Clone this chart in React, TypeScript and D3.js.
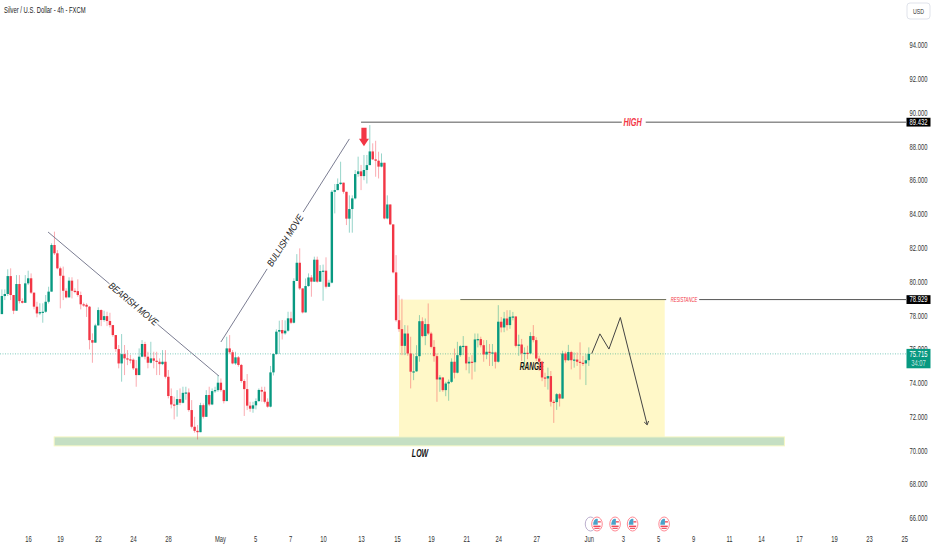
import { useEffect, useRef } from 'react';
import * as d3 from 'd3';

// values, one entry per 4h bar
const firstOpen = 78.07;
const closes = [
  79.14, 79.26, 80.32, 79.2, 78.27, 79.85, 78.84, 78.74, 79.89, 80.19, 79.34, 78.51, 78.11, 78.19, 78.21, 78.8, 79.4, 82.16, 81.67, 80.78,
  80.34, 79.45, 79.06, 80.05, 79.45, 79.43, 79.2, 78.65, 78.62, 78.51, 76.53, 76.38, 77.4, 78.31, 77.72, 77.95, 77.66, 77.42, 76.83, 76.0,
  75.15, 75.7, 75.45, 75.39, 75.37, 74.86, 74.46, 75.55, 76.3, 75.55, 75.19, 75.45, 75.31, 75.25, 75.11, 75.25, 74.36, 73.22, 72.72, 72.7,
  73.04, 72.82, 73.41, 73.43, 72.39, 71.4, 71.16, 71.08, 72.68, 71.99, 73.28, 72.72, 73.51, 73.57, 74.01, 73.57, 72.92, 76.04, 75.81, 75.15,
  75.51, 75.06, 74.11, 73.63, 72.65, 72.47, 72.67, 72.92, 73.58, 73.48, 72.88, 72.59, 74.62, 75.71, 77.03, 77.13, 76.93, 77.09, 77.82, 77.56,
  80.03, 81.11, 79.59, 78.17, 79.73, 80.24, 79.99, 81.29, 79.99, 80.62, 80.64, 79.69, 79.93, 85.31, 85.41, 85.77, 85.85, 85.31, 83.72, 84.29,
  84.92, 86.36, 86.52, 86.24, 86.6, 86.89, 87.7, 87.23, 87.15, 86.8, 87.03, 83.73, 84.56, 83.38, 80.54, 77.71, 77.18, 76.19, 76.92, 75.74,
  74.66, 74.68, 75.58, 77.65, 76.77, 77.48, 76.92, 76.13, 75.58, 74.2, 74.32, 73.57, 73.96, 74.06, 75.25, 74.6, 75.64, 76.17, 76.19, 75.15,
  75.25, 75.22, 76.57, 76.59, 76.23, 75.68, 75.84, 75.78, 75.8, 75.25, 77.62, 77.28, 77.81, 77.42, 77.91, 77.93, 76.19, 76.27, 75.74, 75.78,
  75.74, 76.77, 76.53, 75.44, 75.25, 74.32, 74.26, 74.4, 72.88, 72.86, 73.33, 73.07, 75.74, 75.34, 75.82, 75.34, 75.38, 75.25, 75.19, 75.15,
  75.34, 75.715,
];
const highs = [
  79.53, 79.53, 80.72, 80.78, 79.2, 80.38, 80.38, 79.0, 80.38, 80.64, 80.48, 79.34, 78.8, 78.71, 78.71, 79.2, 79.69, 82.26, 82.95, 81.86,
  80.88, 80.88, 79.6, 80.25, 80.25, 79.6, 80.13, 79.4, 78.75, 78.71, 78.55, 76.93, 77.5, 78.47, 78.35, 78.27, 78.21, 78.15, 77.42, 76.83,
  76.24, 76.89, 76.24, 75.94, 75.65, 75.45, 75.35, 76.04, 76.53, 76.43, 75.84, 76.43, 75.84, 75.84, 75.45, 75.94, 75.94, 74.76, 73.67, 73.18,
  73.57, 73.67, 73.77, 73.77, 73.67, 72.98, 71.99, 71.5, 72.82, 72.78, 73.57, 73.77, 73.67, 73.77, 74.46, 74.26, 73.61, 76.73, 76.83, 75.94,
  75.84, 75.59, 75.12, 74.21, 74.52, 72.88, 72.88, 73.08, 73.67, 73.77, 73.77, 73.08, 75.0, 75.75, 77.17, 77.68, 77.72, 77.7, 78.21, 78.21,
  80.19, 81.62, 81.96, 79.59, 80.18, 80.48, 80.38, 81.47, 81.47, 80.97, 81.0, 81.43, 80.1, 85.41, 85.77, 86.1, 87.09, 85.85, 85.31, 85.1,
  85.1, 86.6, 87.39, 86.9, 87.49, 87.49, 89.26, 88.18, 88.33, 87.68, 87.58, 87.03, 85.1, 84.56, 83.38, 81.56, 79.19, 78.98, 77.42, 77.4,
  76.73, 75.7, 76.23, 78.01, 77.88, 77.81, 78.7, 77.02, 76.53, 75.74, 74.46, 74.32, 74.06, 74.2, 75.45, 76.03, 76.43, 76.23, 76.77, 76.17,
  75.54, 75.64, 76.92, 76.92, 76.73, 76.53, 76.53, 76.3, 76.3, 75.85, 78.6, 77.9, 78.2, 78.3, 78.3, 78.2, 77.93, 76.85, 76.6, 76.1,
  76.2, 77.0, 77.42, 76.7, 75.6, 75.3, 74.6, 74.9, 74.7, 73.0, 73.4, 73.4, 75.9, 75.85, 76.25, 75.9, 75.8, 75.8, 76.4, 75.6,
  75.7, 76.1,
];
const lows = [
  78.07, 78.9, 79.14, 78.9, 78.07, 78.27, 78.7, 78.7, 78.74, 79.79, 79.26, 78.35, 77.88, 78.01, 77.56, 78.15, 78.7, 79.4, 81.57, 80.72,
  78.41, 78.9, 79.0, 79.06, 79.0, 79.3, 79.1, 78.35, 78.5, 77.9, 75.98, 75.19, 76.38, 77.4, 77.36, 77.62, 77.36, 77.28, 76.73, 75.84,
  74.86, 74.07, 74.46, 75.05, 75.15, 74.76, 73.77, 74.46, 75.51, 75.39, 74.86, 75.15, 74.86, 74.46, 74.46, 75.05, 74.26, 73.08, 72.49, 71.84,
  72.0, 72.68, 72.78, 73.0, 72.29, 71.3, 71.05, 70.65, 71.08, 71.89, 71.99, 72.62, 72.68, 73.41, 73.47, 73.47, 72.78, 72.92, 75.7, 75.1,
  75.06, 74.96, 74.01, 72.04, 72.39, 72.29, 72.23, 72.43, 72.88, 72.88, 72.78, 72.53, 72.55, 74.44, 75.65, 75.71, 76.57, 76.85, 77.03, 77.48,
  77.52, 80.05, 79.5, 78.11, 78.17, 79.69, 79.1, 79.99, 79.93, 79.99, 78.86, 79.59, 79.69, 79.89, 84.03, 85.41, 85.71, 85.2, 83.34, 82.89,
  82.89, 84.86, 86.2, 85.41, 86.0, 85.8, 86.89, 87.19, 86.2, 86.1, 86.76, 83.68, 83.68, 83.34, 80.48, 77.62, 77.02, 75.64, 75.64, 75.6,
  73.67, 74.16, 74.66, 75.25, 76.7, 76.23, 76.83, 76.04, 75.25, 72.88, 73.47, 73.47, 73.21, 72.94, 74.0, 74.26, 74.56, 75.54, 75.64, 74.75,
  74.56, 74.2, 74.66, 76.1, 76.1, 75.25, 75.4, 75.0, 75.0, 74.85, 75.2, 76.99, 77.0, 77.1, 77.2, 77.7, 76.1, 75.6, 75.3, 74.9,
  75.4, 75.72, 76.4, 75.3, 74.7, 74.1, 73.76, 73.6, 72.6, 71.63, 72.4, 72.6, 73.07, 75.2, 75.3, 74.8, 74.9, 75.0, 74.2, 75.0,
  73.87, 75.0,
];

const priceTicks = d3.range(66, 96, 2);
const timeLabels = ['16', '19', '22', '24', '28', 'May', '5', '7', '10', '13', '15', '19', '21', '24', '27', 'Jun', '3', '5', '9', '11', '14', '17', '19', '23', '25'];
const timeBars = [8.9, 19.9, 32.9, 44.9, 56.9, 74.7, 86.7, 98.7, 110, 123, 135.3, 147, 159, 170, 183, 201, 212.7, 224.7, 236.7, 249, 260, 273, 285, 297, 309];

const highPrice = 89.432;
const resistancePrice = 78.929;
const lastPrice = 75.715;
const countdown = '34:07';
// projected path, [bar, price]
const projection: [number, number][] = [[202, 75.73], [204.8, 76.9], [207.9, 76.0], [211.8, 77.87], [221, 71.52]];
const speechBar = 201.6;
const eventBars = [203.8, 210, 216, 226.8];

const WIDTH = 932;
const HEIGHT = 550;
const UP = '#089981';
const DOWN = '#f23645';
const FONT = '"Liberation Sans", sans-serif';

export default function App() {
  const svgRef = useRef<SVGSVGElement>(null);

  useEffect(() => {
    if (!svgRef.current) return;
    const svg = d3.select(svgRef.current);
    svg.selectAll('*').remove();

    const x = d3.scaleLinear().domain([0, closes.length - 1]).range([1.9, 588.8]);
    const y = d3.scaleLinear().domain([66, 94]).range([518, 45]);
    const opens = closes.map((_, i) => (i === 0 ? firstOpen : closes[i - 1]));
    const seg = (g: any, x1: number, y1: number, x2: number, y2: number, stroke: string, w = 1) =>
      g.append('line').attr('x1', x1).attr('y1', y1).attr('x2', x2).attr('y2', y2).attr('stroke', stroke).attr('stroke-width', w);

    // zones under the candles
    const zones = svg.append('g');
    zones.append('rect')
      .attr('x', x(136)).attr('y', y(resistancePrice))
      .attr('width', x(227) - x(136)).attr('height', y(70.8) - y(resistancePrice))
      .attr('fill', '#fff8c8');
    zones.append('rect')
      .attr('x', x(17.9)).attr('y', y(70.8))
      .attr('width', x(268) - x(17.9)).attr('height', y(70.27) - y(70.8))
      .attr('fill', '#c5dfc3').attr('stroke', '#f6f7c4').attr('stroke-width', 1);

    // last price line
    seg(svg.append('g'), 0, y(lastPrice), 906, y(lastPrice), UP)
      .attr('stroke-dasharray', '1 1.5').attr('stroke-opacity', 0.5);

    const label = (t: string, px: number, py: number, size: number, fill: string, rotate = 0, weight: any = 700, squeeze = 0.65) =>
      svg.append('text')
        .attr('transform', `translate(${px},${py}) rotate(${rotate})`)
        .attr('text-anchor', 'middle').attr('dominant-baseline', 'central')
        .attr('font-family', FONT).attr('font-size', size)
        .attr('font-style', 'italic').attr('font-weight', weight)
        .attr('data-squeeze', squeeze)
        .attr('fill', fill).text(t);

    label('RANGE', x(181.4), y(74.95), 10, '#111');

    // candles
    const candles = svg.append('g');
    candles.selectAll('line')
      .data(closes)
      .enter()
      .append('line')
      .attr('x1', (_, i) => x(i)).attr('x2', (_, i) => x(i))
      .attr('y1', (_, i) => y(highs[i])).attr('y2', (_, i) => y(lows[i]))
      .attr('stroke', (d, i) => (d >= opens[i] ? UP : DOWN))
      .attr('stroke-opacity', 0.42);
    candles.selectAll('rect')
      .data(closes)
      .enter()
      .append('rect')
      .attr('x', (_, i) => x(i) - 1.2)
      .attr('width', 2.4)
      .attr('y', (d, i) => y(Math.max(d, opens[i])))
      .attr('height', (d, i) => Math.max(1.2, Math.abs(y(d) - y(opens[i]))))
      .attr('fill', (d, i) => (d >= opens[i] ? UP : DOWN));

    // trend annotations with a gap for the text
    const annotate = (a: [number, number], b: [number, number], text: string) => {
      const [x1, y1, x2, y2] = [x(a[0]), y(a[1]), x(b[0]), y(b[1])];
      const angle = (Math.atan2(y2 - y1, x2 - x1) * 180) / Math.PI;
      const g = svg.append('g');
      seg(g, x1, y1, x1 + (x2 - x1) * 0.36, y1 + (y2 - y1) * 0.36, '#7b7d92');
      seg(g, x1 + (x2 - x1) * 0.64, y1 + (y2 - y1) * 0.64, x2, y2, '#7b7d92');
      label(text, (x1 + x2) / 2, (y1 + y2) / 2, 9.5, '#222', angle, 400, 0.85);
    };
    annotate([15.8, 82.93], [74.35, 74.4], 'BEARISH MOVE');
    annotate([75, 76.42], [119, 88.44], 'BULLISH MOVE');

    // high / resistance levels
    const levels = svg.append('g');
    seg(levels, x(123), y(highPrice), x(212.3), y(highPrice), '#555');
    seg(levels, x(220.5), y(highPrice), 906, y(highPrice), '#555');
    seg(levels, x(157), y(resistancePrice), x(227.5), y(resistancePrice), '#6b6b55');
    seg(levels, x(238.8), y(resistancePrice), 906, y(resistancePrice), '#555');
    label('HIGH', x(216), y(highPrice), 10, DOWN, 0, 700, 0.73);
    label('RESISTANCE', x(233.6), y(resistancePrice), 6.5, DOWN, 0, 400);
    label('LOW', x(143.2), y(69.8), 10, '#111', 0, 700, 0.7);

    // red arrow above the top
    const ax = x(124);
    svg.append('path')
      .attr('d', d3.line()([
        [ax - 2.6, y(89.1)], [ax + 2.6, y(89.1)], [ax + 2.6, y(88.45)], [ax + 5, y(88.45)], [ax, y(88.3) + 5],
        [ax - 5, y(88.45)], [ax - 2.6, y(88.45)],
      ] as [number, number][]) + 'Z')
      .attr('fill', DOWN);

    // projected path
    const pts = projection.map(([b, p]) => [x(b), y(p)] as [number, number]);
    svg.append('path')
      .attr('d', d3.line()(pts))
      .attr('fill', 'none').attr('stroke', '#444').attr('stroke-width', 1);
    const [tip, prev] = [pts[pts.length - 1], pts[pts.length - 2]];
    const dir = Math.atan2(tip[1] - prev[1], tip[0] - prev[0]);
    svg.append('path')
      .attr('d', d3.line()([
        [tip[0] - 4 * Math.cos(dir - 0.6), tip[1] - 4 * Math.sin(dir - 0.6)],
        tip,
        [tip[0] - 4 * Math.cos(dir + 0.6), tip[1] - 4 * Math.sin(dir + 0.6)],
      ] as [number, number][]))
      .attr('fill', 'none').attr('stroke', '#444');

    // price axis
    const priceAxis = d3.axisRight(y).tickValues(priceTicks).tickSize(0).tickPadding(0).tickFormat(d3.format('.3f') as any);
    const gy = svg.append('g').attr('transform', 'translate(918.5,0)').call(priceAxis);
    gy.select('.domain').remove();
    gy.selectAll('text')
      .attr('text-anchor', 'middle').attr('font-family', FONT).attr('font-size', 8.5)
      .attr('data-squeeze', 0.69).attr('fill', '#333');

    // time axis
    const timeScale = d3.scaleOrdinal<number, string>().domain(timeBars).range(timeLabels);
    const timeAxis = d3.axisBottom(x).tickValues(timeBars).tickSize(0).tickPadding(0).tickFormat((d) => timeScale(d as number));
    const gx = svg.append('g').attr('transform', 'translate(0,536)').call(timeAxis);
    gx.select('.domain').remove();
    gx.selectAll('text').attr('font-family', FONT).attr('font-size', 9).attr('fill', '#333');

    // price tags
    const tagText = (t: string, py: number, opacity = 1) =>
      svg.append('text').attr('x', 918.5).attr('y', py).attr('dominant-baseline', 'central').attr('text-anchor', 'middle')
        .attr('font-family', FONT).attr('font-size', 8.5).attr('data-squeeze', 0.69)
        .attr('fill', '#fff').attr('fill-opacity', opacity).text(t);
    [highPrice, resistancePrice].forEach((price) => {
      svg.append('rect').attr('x', 906.5).attr('y', y(price) - 4.4).attr('width', 24).attr('height', 8.8).attr('fill', '#000');
      tagText(d3.format('.3f')(price), y(price));
    });
    svg.append('rect').attr('x', 906.5).attr('y', y(lastPrice) - 5).attr('width', 24).attr('height', 19.4).attr('fill', UP);
    tagText(d3.format('.3f')(lastPrice), y(lastPrice));
    tagText(countdown, y(lastPrice) + 9.5, 0.75);

    // header
    svg.append('text').attr('x', 4).attr('y', 13).attr('font-family', FONT).attr('font-size', 9.5).attr('fill', '#222')
      .attr('data-squeeze', 0.62).text('Silver / U.S. Dollar - 4h - FXCM');
    svg.append('rect').attr('x', 907).attr('y', 3).attr('width', 23).attr('height', 16).attr('rx', 3)
      .attr('fill', '#fff').attr('stroke', '#e0e3eb');
    svg.append('text').attr('x', 918.5).attr('y', 11).attr('dominant-baseline', 'central').attr('text-anchor', 'middle')
      .attr('font-family', FONT).attr('font-size', 8).attr('fill', '#333').text('USD');

    // economic events
    const ev = svg.append('g');
    const cy = 524;
    ev.append('ellipse').attr('cx', x(speechBar)).attr('cy', cy).attr('rx', 5.3).attr('ry', 7)
      .attr('fill', '#fff').attr('stroke', '#a99bc0').attr('stroke-width', 0.8);
    eventBars.forEach((b) => {
      const cx = x(b);
      const icon = ev.append('g');
      icon.append('ellipse').attr('cx', cx).attr('cy', cy).attr('rx', 5.3).attr('ry', 7)
        .attr('fill', '#fff').attr('stroke', '#ff8a95').attr('stroke-width', 1);
      icon.append('path').attr('d', `M${cx - 3.9},${cy + 0.8}A3.9,5.4 0 0 1 ${cx + 0.8},${cy - 5}V${cy + 0.8}Z`).attr('fill', '#4aa3c9');
      icon.append('rect').attr('x', cx + 0.8).attr('y', cy - 2.8).attr('width', 3).attr('height', 1.3).attr('fill', '#f04a5a');
      icon.append('rect').attr('x', cx - 3.6).attr('y', cy + 1.6).attr('width', 7.2).attr('height', 1.5).attr('fill', '#f04a5a');
      icon.append('rect').attr('x', cx - 2.6).attr('y', cy + 3.8).attr('width', 5.2).attr('height', 1.1).attr('fill', '#f04a5a');
    });

    // the picture's lettering is narrow, so pull every text in horizontally
    svg.selectAll<SVGTextElement, unknown>('text').each(function () {
      const ratio = Number(this.getAttribute('data-squeeze')) || 0.65;
      const tx = this.getAttribute('x') || 0;
      const prior = this.getAttribute('transform') || '';
      this.setAttribute('transform', `${prior} translate(${tx},0) scale(${ratio},1) translate(${-tx},0)`);
    });
  }, []);

  return (
    <svg
      ref={svgRef}
      width={WIDTH}
      height={HEIGHT}
      style={{ position: 'absolute', top: 0, left: 0, background: '#fff', display: 'block' }}
    />
  );
}
